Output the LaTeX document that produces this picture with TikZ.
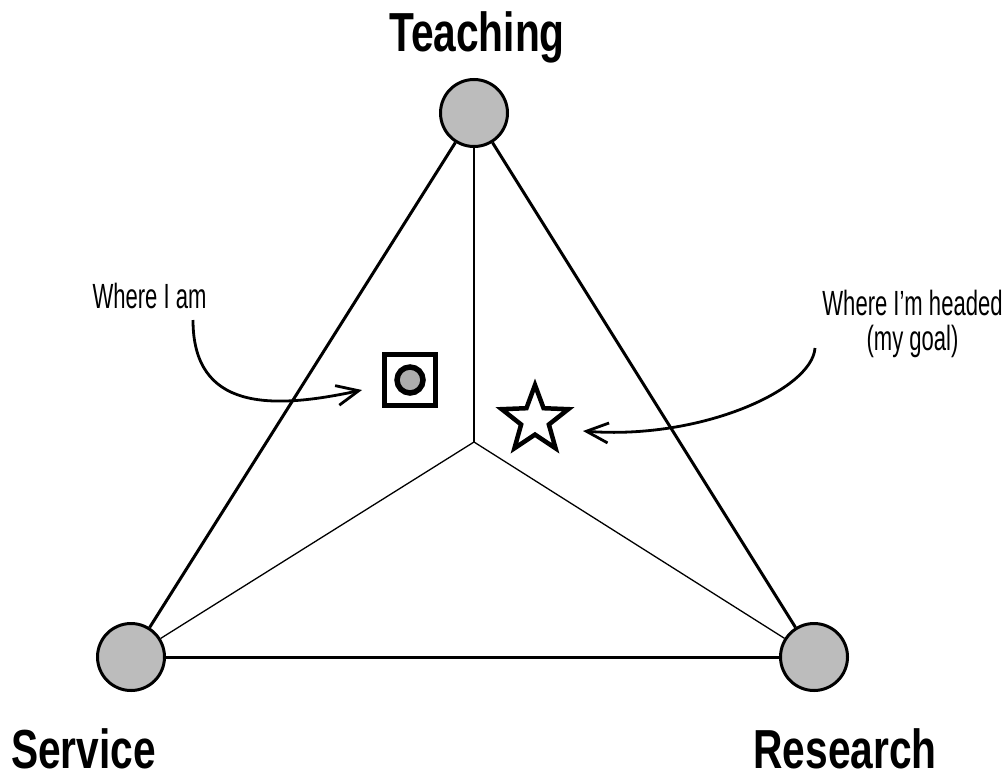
\documentclass[tikz,border=0pt]{standalone}
\usepackage{fontspec}
\setmainfont{Liberation Sans}
\usepackage{tikz}
\usetikzlibrary{arrows.meta,shapes.geometric,backgrounds}

\definecolor{nodegray}{RGB}{188,188,188}
\definecolor{markgray}{RGB}{172,172,172}

\begin{document}
\begin{tikzpicture}[
    x=1pt,
    y=-1pt,
    corner/.style={
        circle,
        draw,
        fill=nodegray,
        line width=3pt,
        minimum size=67pt,
        inner sep=0pt
    },
    heading/.style={
        anchor=base,
        inner sep=0pt,
        font=\fontsize{55}{55}\selectfont\bfseries
    },
    remark/.style={
        anchor=base,
        font=\fontsize{35}{35}\selectfont
    },
    side/.style={
        line width=3pt
    },
    spoke/.style={
        line width=1.3pt
    },
    pointer/.style={
        line width=2.8pt,
        -{Straight Barb[length=22pt,width=20pt]}
    }
]

\useasboundingbox (0,0) rectangle (1008,776);


\node[corner] (teach) at (474,113) {};
\node[corner] (serv) at (131,657) {};
\node[corner] (res) at (814,657) {};
\coordinate (mid) at (474,442);


\begin{scope}[on background layer]
\draw[side] (teach) -- (serv);
\draw[side] (teach) -- (res);
\draw[side] (serv) -- (res);
\draw[spoke, line width=2pt] (mid) -- (teach);
\draw[spoke] (mid) -- (serv);
\draw[spoke] (mid) -- (res);
\end{scope}


\node[heading] (teachTitle) at (477,52) {\scalebox{0.74}[1]{Teaching}};
\node[heading] (servTitle) at (83.5,768) {\scalebox{0.74}[1]{Service}};
\node[heading] (resTitle) at (845,768) {\scalebox{0.74}[1]{Research}};


% markers
\node[draw, rectangle, line width=5pt, minimum size=51.5pt,
      inner sep=0pt, fill=white] (here) at (410,380) {};
\node[circle, draw, fill=markgray, line width=5.5pt, minimum size=26pt,
      inner sep=0pt] (hereDot) at (here) {};
\node[star, star points=5, star point ratio=2.4, draw, line width=4.5pt,
      minimum size=70pt, inner sep=0pt] (goal) at (535,420) {};


\node[remark] (hereText) at (149.5,308) {\scalebox{0.63}[1]{Where I am}};
\node[remark] (goalText) at (912.5,315) {\scalebox{0.63}[1]{Where I'm headed}};
\node[remark] (goalNote) at (912.5,350) {\scalebox{0.63}[1]{(my goal)}};


\coordinate (hereFrom) at (193,320);
\coordinate (hereTo) at (362,390);
\draw[pointer] (hereFrom) .. controls +(0,90) and +(-92,20) .. (hereTo);

\coordinate (goalFrom) at (815,348);
\coordinate (goalTo) at (583,431);
\draw[pointer] (goalFrom) .. controls +(-3,42) and +(117,9) .. (goalTo);

\end{tikzpicture}
\end{document}
